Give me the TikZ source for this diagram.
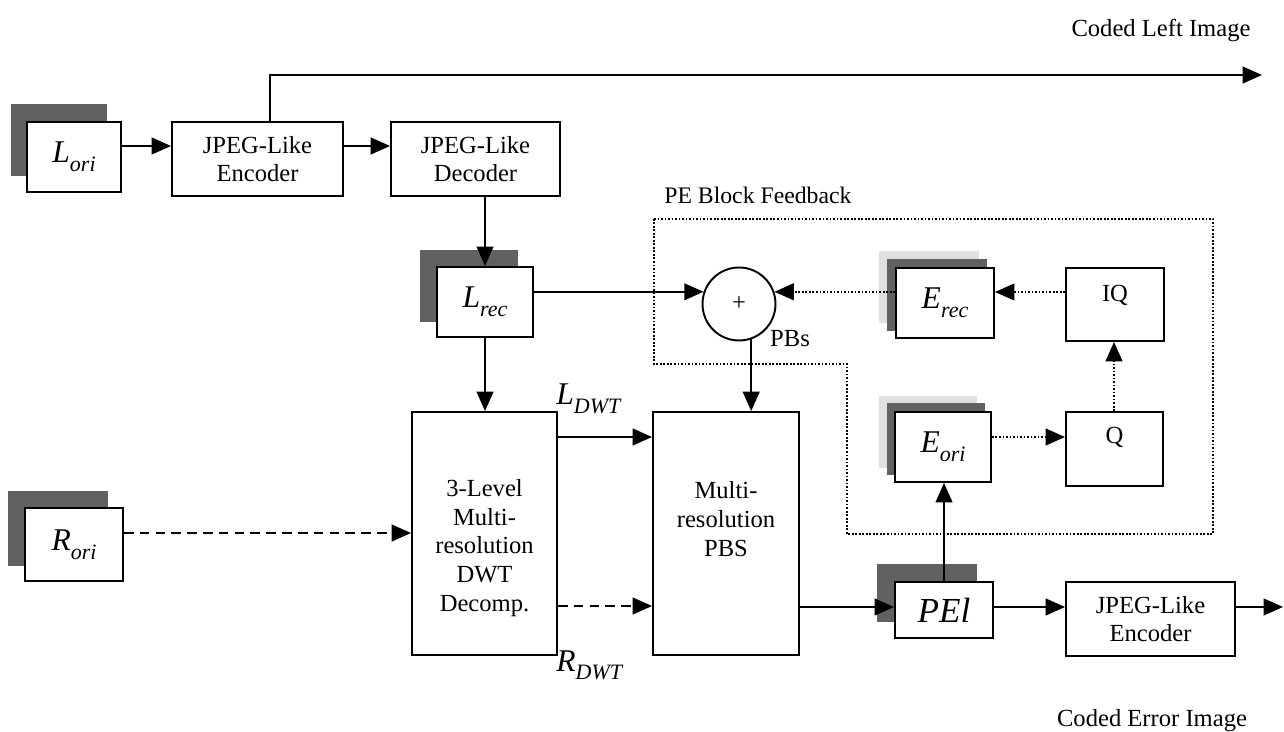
\documentclass[tikz,border=0pt]{standalone}
\usepackage{fontspec}
\setmainfont{Liberation Serif}
\usetikzlibrary{arrows.meta,calc,backgrounds}
\newcommand\symb[2]{{\fontsize{18}{20}\selectfont\itshape #1}\raisebox{-5pt}{\fontsize{12.5}{14}\selectfont\itshape #2}}
\begin{document}
\begin{tikzpicture}[x=0.02cm,y=-0.02cm,
  font=\fontsize{14}{16.3}\selectfont,
  box/.style={draw, fill=white, line width=1.1pt, align=center, inner sep=0pt},
  txt/.style={align=center, inner sep=0pt},
  arr/.style={line width=1.1pt, -{Triangle[length=11pt,width=9.5pt]}},
  darr/.style={arr, dash pattern=on 5.5pt off 3.5pt},
  dotarr/.style={line width=1pt, dash pattern=on 1pt off 1pt, -{Triangle[length=11pt,width=9.5pt]}},
  dotbd/.style={line width=1pt, dash pattern=on 1pt off 1pt},
  shd/.style={fill=black!62},
  halo/.style={fill=black!12}]
\useasboundingbox (0,0) rectangle (1284,732);

% boxes
\node[box, minimum width=1.88cm, minimum height=1.4cm] (Lori) at (74,157) {\symb{L}{ori}};
\node[box, minimum width=3.42cm, minimum height=1.48cm] (Enc1) at (257.5,159) {JPEG-Like\\Encoder};
\node[box, minimum width=3.38cm, minimum height=1.48cm] (Dec) at (475.5,159) {JPEG-Like\\Decoder};
\node[box, minimum width=1.92cm, minimum height=1.4cm] (Lrec) at (485,302) {\symb{L}{rec}};
\node[box, minimum width=1.96cm, minimum height=1.46cm] (Rori) at (74,544.5) {\symb{R}{ori}};
\node[box, minimum width=2.9cm, minimum height=4.86cm] (DWT) at (484.5,533.5) {};
\node[txt] (DWTt) at (484.5,548) {3-Level\\Multi-\\resolution\\DWT\\Decomp.};
\node[box, minimum width=2.92cm, minimum height=4.86cm] (PBS) at (726,533.5) {};
\node[txt] (PBSt) at (726,519) {Multi-\\resolution\\PBS};
\node[box, minimum width=1.96cm, minimum height=1.4cm] (Erec) at (945,303) {\symb{E}{rec}};
\node[box, minimum width=1.96cm, minimum height=1.46cm] (IQ) at (1115,304.5) {};
\node[txt] (IQt) at (1115,295) {IQ};
\node[box, minimum width=1.92cm, minimum height=1.4cm] (Eori) at (943,447) {\symb{E}{ori}};
\node[box, minimum width=1.94cm, minimum height=1.48cm] (Q) at (1114.5,449) {};
\node[txt] (Qt) at (1114.5,437) {Q};
\node[box, minimum width=1.96cm, minimum height=1.12cm] (PE) at (944,610) {{\fontsize{20}{22}\selectfont\itshape PEl}};
\node[box, minimum width=3.38cm, minimum height=1.48cm] (Enc2) at (1150.5,619) {JPEG-Like\\Encoder};
\node[draw, fill=white, circle, line width=1.1pt, minimum size=1.46cm, inner sep=0pt] (plus) at (739,304) {\fontsize{14}{14}\selectfont +};

% shadows
\begin{scope}[on background layer]
\fill[shd] ($(Lori.south west)+(-15,-17)$) rectangle ($(Lori.north east)+(-15,-17)$);
\fill[shd] ($(Lrec.south west)+(-16,-16)$) rectangle ($(Lrec.north east)+(-16,-16)$);
\fill[shd] ($(Rori.south west)+(-16,-16)$) rectangle ($(Rori.north east)+(-16,-16)$);
\fill[halo] ($(Erec.south west)+(-16,-16)$) rectangle ($(Erec.north east)+(-16,-16)$);
\fill[shd] ($(Erec.south west)+(-8,-8)$) rectangle ($(Erec.north east)+(-8,-8)$);
\fill[halo] ($(Eori.south west)+(-15,-15)$) rectangle ($(Eori.north east)+(-15,-15)$);
\fill[shd] ($(Eori.south west)+(-7,-8)$) rectangle ($(Eori.north east)+(-7,-8)$);
\fill[shd] ($(PE.south west)+(-17,-17)$) rectangle ($(PE.north east)+(-17,-17)$);
\end{scope}

% feedback region
\draw[dotbd] (654,219) -- (1213,219) -- (1213,534) -- (847,534) -- (847,364) -- (654,364) -- cycle;
\node[anchor=west, inner sep=0pt, font=\fontsize{13.5}{16}\selectfont] (fbl) at (664,195) {PE Block Feedback};

% labels
\node[inner sep=0pt] (cli) at (1161,31) {Coded Left Image};
\node[inner sep=0pt] (cei) at (1152,721) {Coded Error Image};
\node[inner sep=0pt] (pbs) at (790,339) {PBs};
\node[anchor=base west, inner sep=0pt] (ldwt) at (556,405) {\symb{L}{DWT}};
\node[anchor=base west, inner sep=0pt] (rdwt) at (556,671) {\symb{R}{DWT}};

% connectors
\coordinate (outL) at (1262,75);
\coordinate (outE) at (1283,607);
\draw[arr] (Lori.east |- 0,146) -- (Enc1.west |- 0,146);
\draw[arr] (Enc1.east |- 0,146) -- (Dec.west |- 0,146);
\draw[arr] ([xshift=0.25cm]Enc1.north) |- (outL);
\draw[arr] (Lrec.north |- Dec.south) -- (Lrec.north);
\draw[arr] (Lrec.south) -- (DWT.north -| Lrec.south);
\draw[arr] (Lrec.east |- plus.161) -- (plus.161);
\draw[arr] (plus.289) -- (PBS.north -| plus.289);
\draw[darr] (Rori.east |- 0,533) -- (DWT.west |- 0,533);
\draw[arr] (DWT.east |- 0,437) -- (PBS.west |- 0,437);
\draw[darr] (DWT.east |- 0,606) -- (PBS.west |- 0,606);
\draw[arr] (PBS.east |- 0,607) -- (PE.west |- 0,607);
\draw[arr] (PE.east |- 0,607) -- (Enc2.west |- 0,607);
\draw[arr] (Enc2.east |- outE) -- (outE);
\draw[arr] (PE.north) -- (Eori.south -| PE.north);
\draw[dotarr] (Eori.east |- 0,437) -- (Q.west |- 0,437);
\draw[dotarr] (Q.north -| 1114,0) -- (IQ.south -| 1114,0);
\draw[dotarr] (IQ.west |- 0,292) -- (Erec.east |- 0,292);
\draw[dotarr] (Erec.west |- plus.19) -- (plus.19);
\end{tikzpicture}
\end{document}
